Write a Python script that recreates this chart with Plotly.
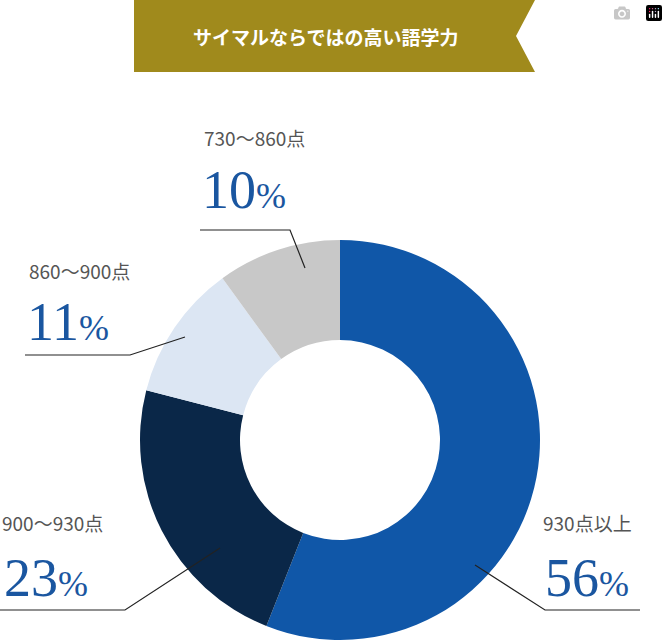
import plotly.graph_objects as go

categories = ["930点以上", "900〜930点", "860〜900点", "730〜860点"]
values = [56, 23, 11, 10]
colors = ["#1057a8", "#0a2748", "#dce6f3", "#c8c8c8"]

W, H = 668, 640
def px(x): return x / W
def py(y): return 1 - y / H

fig = go.Figure(go.Pie(
    labels=categories, values=values, hole=0.5, sort=False,
    direction="clockwise", rotation=0,
    marker=dict(colors=colors, line=dict(width=0)),
    textinfo="none", hoverinfo="label+percent",
    domain=dict(x=[px(140), px(540)], y=[0, 400 / H]),
))

shapes = []
pts = [(134, 0), (535, 0), (516, 36), (535, 72), (134, 72)]
path = "M " + " L ".join(f"{px(x)},{py(y)}" for x, y in pts) + " Z"
shapes.append(dict(type="path", path=path, xref="paper", yref="paper",
                   fillcolor="#a08a1c", line=dict(width=0)))
leaders = [
    [(475, 565), (545, 610), (640, 610)],
    [(220, 548), (125, 610), (0, 610)],
    [(185, 337), (130, 355), (25, 355)],
    [(305, 268), (290, 230), (200, 230)],
]
for l in leaders:
    p = "M " + " L ".join(f"{px(x)},{py(y)}" for x, y in l)
    shapes.append(dict(type="path", path=p, xref="paper", yref="paper",
                       line=dict(color="#222", width=1.2)))

ann = [dict(text="<b>サイマルならではの高い語学力</b>", x=px(325), y=py(36), xref="paper", yref="paper",
            xanchor="center", yanchor="middle",
            showarrow=False, font=dict(color="white", size=19, family="Noto Sans CJK JP"))]
cat_pos = [(541, 522), (0, 522), (27, 270), (202, 137)]
pct_pos = [(543, 578), (2, 578), (25, 322), (200, 190)]
for c, v, (cx, cy), (vx, vy) in zip(categories, values, cat_pos, pct_pos):
    ann.append(dict(text=c, x=px(cx), y=py(cy), xref="paper", yref="paper", xanchor="left",
                    yanchor="middle",
                    showarrow=False, font=dict(color="#555", size=19, family="Noto Sans CJK JP")))
    ann.append(dict(text=f"{v}<span style='font-size:36px'>%</span>", x=px(vx), y=py(vy),
                    xref="paper", yref="paper", xanchor="left", yanchor="middle", showarrow=False,
                    font=dict(color="#1a56a0", size=54, family="Liberation Serif")))

fig.update_layout(width=W, height=H, margin=dict(l=0, r=0, t=0, b=0),
                  paper_bgcolor="white", showlegend=False, shapes=shapes, annotations=ann)
fig.write_html("out.html", post_script="document.body.style.margin='0';")
